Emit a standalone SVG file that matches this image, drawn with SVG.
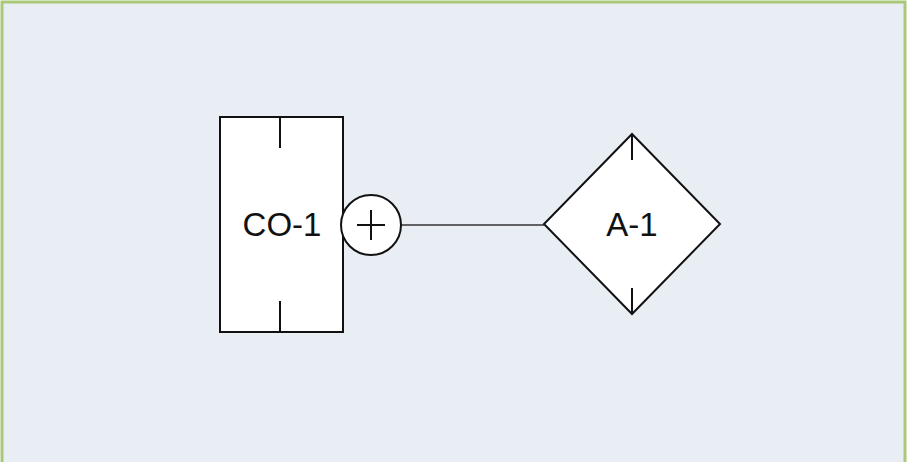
<svg xmlns="http://www.w3.org/2000/svg" width="918" height="462" viewBox="0 0 918 462">
<style>
.shape{fill:#ffffff;stroke:#111111;stroke-width:2}
.tick{stroke:#111111;stroke-width:2;fill:none}
.lbl{font-family:"Liberation Sans",Arial,sans-serif;font-size:33px;fill:#111111;text-anchor:middle}
</style>
<rect x="0" y="0" width="918" height="462" fill="#ffffff"/>
<rect x="2" y="2" width="903" height="475" fill="#e9eef5" stroke="#a9c878" stroke-width="3"/>
<g id="connectors">
<line x1="401" y1="225" x2="544" y2="225" stroke="#333333" stroke-width="1.3"/>
</g>
<g id="CO-1">
<rect class="shape" x="220" y="117" width="123" height="215"/>
<line class="tick" x1="280" y1="117" x2="280" y2="148"/>
<line class="tick" x1="280" y1="301" x2="280" y2="332"/>
<text class="lbl" x="282" y="236">CO-1</text>
</g>
<g id="plus">
<circle class="shape" cx="371" cy="225" r="30"/>
<line class="tick" x1="357" y1="225" x2="385" y2="225"/>
<line class="tick" x1="371" y1="210" x2="371" y2="240"/>
</g>
<g id="A-1">
<polygon class="shape" points="632,134 720,224 632,314 544,224"/>
<line class="tick" x1="632" y1="134" x2="632" y2="160"/>
<line class="tick" x1="632" y1="288" x2="632" y2="314"/>
<text class="lbl" x="632" y="236">A-1</text>
</g>
</svg>
